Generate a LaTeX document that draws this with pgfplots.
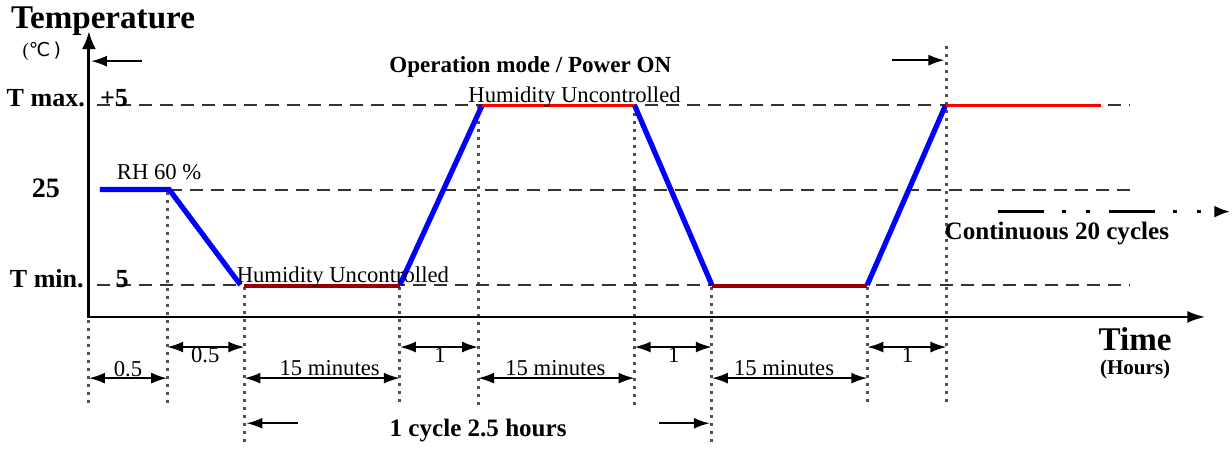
\documentclass[border=0pt]{standalone}
\usepackage{pgfplots}
\pgfplotsset{compat=1.18}
\usepackage{fontspec}
\setmainfont{Liberation Serif}
\newfontfamily\dejavu{DejaVu Sans}
\usetikzlibrary{arrows.meta}
\definecolor{profblue}{RGB}{0,0,255}
\definecolor{profred}{RGB}{255,0,0}
\definecolor{profdark}{RGB}{150,0,0}
\definecolor{guide}{RGB}{80,80,80}
\tikzset{
  dotv/.style={guide, line width=1.5pt, dash pattern=on 1.5pt off 2.5pt},
  dashh/.style={black!80, line width=1pt, dash pattern=on 6.5pt off 4pt},
  dim/.style={black, line width=1pt, {Latex[length=8pt,width=5.5pt]}-{Latex[length=8pt,width=5.5pt]}},
  sarr/.style={black, line width=1pt, -{Latex[length=8pt,width=5.5pt]}},
  lbl/.style={font=\fontsize{11.3}{13}\selectfont},
  blbl/.style={font=\bfseries\fontsize{11.5}{13}\selectfont},
}
\begin{document}
\begin{tikzpicture}
\begin{axis}[
  scale only axis, width=616pt, height=222.5pt,
  xmin=0, xmax=1232, ymin=0, ymax=445,
  hide axis, clip=false,
]
% guide dotted verticals
\addplot[dotv] coordinates {(92,127) (92,40)};
\addplot[dotv] coordinates {(170,255) (170,40)};
\addplot[dotv] coordinates {(247,160) (247,0)};
\addplot[dotv] coordinates {(402,160) (402,40)};
\addplot[dotv] coordinates {(480,341) (480,40)};
\addplot[dotv] coordinates {(636,341) (636,40)};
\addplot[dotv] coordinates {(713,160) (713,0)};
\addplot[dotv] coordinates {(868,160) (868,40)};
\addplot[dotv] coordinates {(947,400) (947,40)};
% dashed horizontals
\addplot[dashh] coordinates {(100,341) (1130,341)};
\addplot[dashh] coordinates {(172,257) (1130,257)};
\addplot[dashh] coordinates {(100,162) (1130,162)};
% axes
\addplot[black, line width=1.5pt, -{Latex[length=9pt,width=7pt]}] coordinates {(92,129) (92,415)};
\addplot[black, line width=1.2pt, -{Latex[length=9pt,width=6pt]}] coordinates {(91,130) (1205,130)};
% profile
\addplot[profblue, line width=2.6pt] coordinates {(103,257) (172,257) (243,162)};
\addplot[profdark, line width=1.8pt] coordinates {(247,161) (402,161)};
\addplot[profblue, line width=2.6pt] coordinates {(402,162) (484,341)};
\addplot[profred, line width=1.8pt] coordinates {(484,341) (636,341)};
\addplot[profblue, line width=2.6pt] coordinates {(636,341) (713,162)};
\addplot[profdark, line width=1.8pt] coordinates {(713,161) (868,161)};
\addplot[profblue, line width=2.6pt] coordinates {(868,162) (946,341)};
\addplot[profred, line width=1.8pt] coordinates {(946,341) (1101,341)};
% dimension arrows
\addplot[dim] coordinates {(92,69) (170,69)};
\addplot[dim] coordinates {(247,69) (402,69)};
\addplot[dim] coordinates {(480,69) (636,69)};
\addplot[dim] coordinates {(713,69) (868,69)};
\addplot[dim] coordinates {(170,100) (247,100)};
\addplot[dim] coordinates {(402,100) (480,100)};
\addplot[dim] coordinates {(636,100) (713,100)};
\addplot[dim] coordinates {(868,100) (947,100)};
% single arrows
\addplot[sarr] coordinates {(145,385) (94,385)};
\addplot[sarr] coordinates {(893,386) (945,386)};
\addplot[sarr] coordinates {(300,24) (249,24)};
\addplot[sarr] coordinates {(660,24) (711,24)};
% continuation arrow
\addplot[black, line width=1.6pt, dash pattern=on 23pt off 9pt on 2pt off 10pt on 2pt off 9.5pt, -{Latex[length=8pt,width=6pt]}] coordinates {(998,235) (1230,235)};
% texts
\node[font=\bfseries\fontsize{16.5}{18}\selectfont] at (106,425) {Temperature};
\node[font=\fontsize{9.5}{11}\selectfont] at (45,395) {(\dejavu ℃\,)};
\node[font=\bfseries\fontsize{13}{15}\selectfont] at (49,348) {T max.};
\node[font=\bfseries\fontsize{13}{15}\selectfont] at (117,348) {+5};
\node[font=\bfseries\fontsize{14}{16}\selectfont] at (49,258) {25};
\node[font=\bfseries\fontsize{13}{15}\selectfont] at (50,168) {T min.};
\node[font=\bfseries\fontsize{13}{15}\selectfont] at (125,168) {5};
\node[lbl] at (162,274) {RH 60 \%};
\node[lbl, anchor=base west, inner sep=0pt] at (239,164) {Humidity Uncontrolled};
\node[lbl, anchor=base west, inner sep=0pt] at (470,344) {Humidity Uncontrolled};
\node[blbl] at (532,379) {Operation mode / Power ON};
\node[font=\bfseries\fontsize{12.5}{14}\selectfont] at (1057,213) {Continuous 20 cycles};
\node[font=\bfseries\fontsize{16.5}{18}\selectfont] at (1135,108) {Time};
\node[font=\bfseries\fontsize{10.5}{12}\selectfont] at (1135,78) {(Hours)};
\node[font=\bfseries\fontsize{12.5}{14}\selectfont] at (480,17) {1 cycle 2.5 hours};
\node[lbl] at (131,78) {0.5};
\node[lbl] at (208,92) {0.5};
\node[lbl] at (332,79) {15 minutes};
\node[lbl] at (557,79) {15 minutes};
\node[lbl] at (785,79) {15 minutes};
\node[lbl] at (442,92) {1};
\node[lbl] at (675,92) {1};
\node[lbl] at (908,92) {1};
\end{axis}
\end{tikzpicture}
\end{document}
